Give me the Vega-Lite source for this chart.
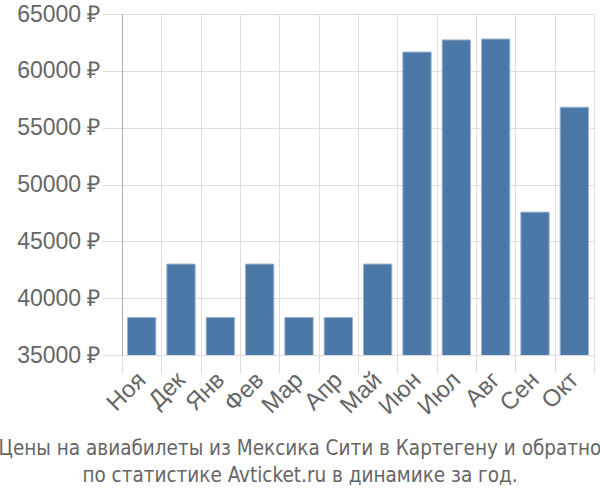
{
  "$schema": "https://vega.github.io/schema/vega-lite/v6.json",
  "width": 472,
  "height": 341,
  "autosize": "none",
  "padding": {"left": 122, "top": 14, "right": 6, "bottom": 145},
  "background": "white",
  "config": {"view": {"stroke": null}, "font": "Liberation Sans"},
  "title": {
    "text": ["Цены на авиабилеты из Мексика Сити в Картегену и обратно", "по статистике Avticket.ru в динамике за год."],
    "orient": "bottom",
    "anchor": "middle",
    "dx": -58,
    "offset": 20,
    "fontSize": 20.5,
    "font": "DejaVu Sans Condensed, Liberation Sans Narrow, sans-serif",
    "fontWeight": "normal",
    "color": "#666",
    "lineHeight": 27
  },
  "data": {
    "values": [
      {"month": "Ноя", "price": 38300},
      {"month": "Дек", "price": 43000},
      {"month": "Янв", "price": 38300},
      {"month": "Фев", "price": 43000},
      {"month": "Мар", "price": 38300},
      {"month": "Апр", "price": 38300},
      {"month": "Май", "price": 43000},
      {"month": "Июн", "price": 61650},
      {"month": "Июл", "price": 62720},
      {"month": "Авг", "price": 62800},
      {"month": "Сен", "price": 47570},
      {"month": "Окт", "price": 56800}
    ]
  },
  "mark": {"type": "bar", "width": {"band": 0.72}, "color": "#4c78a8", "stroke": "#9db4d0", "strokeWidth": 1, "clip": true},
  "encoding": {
    "x": {
      "field": "month",
      "type": "nominal",
      "sort": null,
      "scale": {"paddingInner": 0, "paddingOuter": 0},
      "axis": {
        "title": null,
        "tickBand": "extent",
        "grid": true,
        "gridColor": "#dddddd",
        "tickColor": "#dddddd",
        "tickSize": 18,
        "domain": false,
        "labelAngle": -45,
        "labelAlign": "right",
        "labelBaseline": "middle",
        "labelFontSize": 24,
        "labelColor": "#666",
        "labelPadding": 3
      }
    },
    "y": {
      "field": "price",
      "type": "quantitative",
      "scale": {"domain": [35000, 65000], "zero": false, "nice": false},
      "axis": {
        "title": null,
        "values": [35000, 40000, 45000, 50000, 55000, 60000, 65000],
        "labelExpr": "datum.value + ' ₽'",
        "grid": true,
        "gridColor": "#dddddd",
        "tickColor": "#dddddd",
        "tickSize": 20,
        "domainColor": "#aaaaaa",
        "labelFontSize": 23,
        "labelColor": "#666",
        "labelPadding": 2
      }
    }
  }
}
